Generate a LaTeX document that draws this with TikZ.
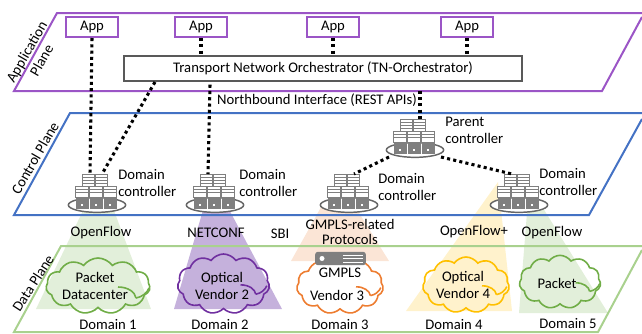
\documentclass[tikz,border=0pt]{standalone}
\usepackage{fontspec}
\setmainfont{Carlito}
\usetikzlibrary{positioning,shapes.geometric,shapes.symbols}
\definecolor{appline}{HTML}{9B55C6}
\definecolor{ctrlline}{HTML}{4472C4}
\definecolor{dataline}{HTML}{A9D18E}
\definecolor{srvgrey}{HTML}{7F7F7F}
\definecolor{fillgreen}{HTML}{E2EFDA}
\definecolor{fillpurple}{HTML}{C5B1DC}
\definecolor{fillpeach}{HTML}{FBE5D6}
\definecolor{fillyellow}{HTML}{FFF2CC}
\definecolor{cloudgreen}{HTML}{70AD47}
\definecolor{cloudpurple}{HTML}{7030A0}
\definecolor{cloudorange}{HTML}{ED7D31}
\definecolor{cloudyellow}{HTML}{FFC000}
\tikzset{
  every node/.style={font=\fontsize{11pt}{12.8pt}\selectfont, inner sep=0pt, align=center},
  appbox/.style={draw=appline, line width=1.5pt, minimum width=39pt, minimum height=15pt},
  orchbox/.style={draw=black!65, line width=1.3pt, fill=white, minimum width=298pt, minimum height=18.5pt},
  plane/.style={line width=1.5pt},
  dots/.style={line width=2.3pt, dash pattern=on 2.3pt off 2.4pt},
  ring/.style={ellipse, draw=black!60, line width=1.1pt, fill=white, minimum width=43pt, minimum height=11pt},
  domaincloud/.style={cloud, cloud puffs=11, cloud puff arc=110, cloud ignores aspect, line width=1.2pt},
  racktop/.style={draw=srvgrey, fill=white, line width=0.7pt},
  pics/servers/.style={code={
    \node [ring] (-ring) at (0,0) {};
    \foreach \xx in {-8.5,4.5} {
      \draw [racktop] (\xx-6,-31) rectangle (\xx+6,-19);
      \foreach \ll in {-28,-25,-22} \draw [srvgrey, line width=0.7pt] (\xx-6,\ll) -- (\xx+6,\ll);
    }
    \foreach \xx in {-15,-1,13} {
      \draw [racktop] (\xx-6.5,-19) rectangle (\xx+6.5,-8);
      \foreach \ll in {-16,-13} \draw [srvgrey, line width=0.7pt] (\xx-6.5,\ll) -- (\xx+6.5,\ll);
      \fill [srvgrey] (\xx-6.5,-8) rectangle (\xx+6.5,4);
      \fill [white] (\xx-1,-1) rectangle (\xx+1,1);
    }
    \coordinate (-topl) at (-7,-31);
    \coordinate (-topr) at (5,-31);
  }},
  pics/folds/.style={code={
    \draw [pic actions] (20,1) .. controls (30,1) and (37,6) .. (38,12);
    \draw [pic actions] (38,12) .. controls (44,11) and (49,7) .. (51,2);
  }}
}
\begin{document}
\begin{tikzpicture}[x=0.75pt, y=-0.75pt]
\useasboundingbox (0,0) rectangle (642,333);
% cones from the controllers down to the domains
\fill [fillgreen] (88,200) -- (110,200) -- (151,309) -- (36,309) -- cycle;
\fill [fillpurple] (206,200) -- (224,200) -- (282,309) -- (174,309) -- cycle;
\fill [fillpeach] (325,200) -- (351,200) -- (389,261) -- (291,261) -- cycle;
\fill [fillgreen] (528,200) -- (538,200) -- (608,313) -- (519,313) -- cycle;
\fill [fillyellow] (498,182) -- (512,311) -- (406,311) -- cycle;
% planes
\draw [plane, appline] (642,13) -- (57,13) -- (14,91) -- (602,91) -- (642,17);
\draw [plane, ctrlline] (642,113) -- (70,113) -- (14,215) -- (589,215) -- (642,119);
\draw [plane, dataline] (642,246) -- (61,246) -- (14,332) -- (598,332) -- (642,250);
\node [rotate=60] (appplane) at (34,56) {Application\\Plane};
\node [rotate=60] (ctrlplane) at (35,158) {Control Plane};
\node [rotate=57] (dataplane) at (33,283) {Data Plane};
% clouds
\node [domaincloud, draw=cloudgreen, minimum width=78pt, minimum height=42pt] (cloud1) at (98,286) {};
\node [domaincloud, draw=cloudpurple, minimum width=69pt, minimum height=45pt] (cloud2) at (223.5,284) {};
\node [domaincloud, draw=cloudorange, minimum width=65pt, minimum height=42pt] (cloud3) at (340,286) {};
\node [domaincloud, draw=cloudyellow, minimum width=65pt, minimum height=42pt] (cloud4) at (466,285) {};
\node [domaincloud, draw=cloudgreen, minimum width=61pt, minimum height=40pt] (cloud5) at (560,282) {};
\pic [draw=cloudgreen, line width=1.2pt] at (98,286) {folds};
\pic [draw=cloudpurple, line width=1.2pt, scale=0.85] at (223.5,284) {folds};
\pic [draw=cloudorange, line width=1.2pt, scale=0.8] at (340,286) {folds};
\pic [draw=cloudyellow, line width=1.2pt, scale=0.8] at (466,285) {folds};
\pic [draw=cloudgreen, line width=1.2pt, scale=0.78] at (560,282) {folds};
% GMPLS device on the third cloud
\node [fill=srvgrey, rounded corners=2pt, minimum width=38pt, minimum height=10pt] (gmplsbox) at (340.5,258.5) {};
\fill [white] (322,258.5) circle (2.5);
\foreach \yy in {255,258.5,262}
\draw [white, line width=0.6pt] (343,\yy) -- (363,\yy);
% controllers
\pic (dc1) at (97,205) {servers};
\pic (dc2) at (215,205) {servers};
\pic (dc3) at (349,205) {servers};
\pic (dc4) at (519,205) {servers};
\pic (parent) at (415,150) {servers};
% applications and orchestrator
\node [appbox] (app1) at (92,27) {App};
\node [appbox] (app2) [right = 41.25pt of app1] {App};
\node [appbox] (app3) [right = 58.5pt of app2] {App};
\node [appbox] (app4) [right = 60pt of app3] {App};
\node [orchbox] (orch) at (323,68.5) {Transport Network Orchestrator (TN-Orchestrator)};
% dotted links
\draw [dots] (app1.south) -- (dc1-topl);
\draw [dots] (app2.south) -- (app2.south |- orch.north);
\draw [dots] (app3.south) -- (app3.south |- orch.north);
\draw [dots] (app4.south) -- (app4.south |- orch.north);
\draw [dots] (155,82) -- (dc1-topr);
\draw [dots] (dc2-topl |- orch.south) ++(2,3) -- (dc2-topl);
\draw [dots] (parent-topr |- orch.south) ++(0,9) -- (parent-topr);
\draw [dots] (parent-ring) ++(-26,7) -- (dc3-topr);
\draw [dots] (parent-ring) ++(26,7) -- (dc4-topl);
% labels
\node (nbi) at (317,100) {Northbound Interface (REST APIs)};
\node (parenttext) [anchor=west] at (445,131.5) {\begin{tabular}{@{}l@{}}Parent\\controller\end{tabular}};
\node (dc1text) [anchor=west] at (118,184.5) {\begin{tabular}{@{}l@{}}Domain\\controller\end{tabular}};
\node (dc2text) [anchor=west] at (239,184.5) {\begin{tabular}{@{}l@{}}Domain\\controller\end{tabular}};
\node (dc3text) [anchor=west] at (378,188.5) {\begin{tabular}{@{}l@{}}Domain\\controller\end{tabular}};
\node (dc4text) [anchor=west] at (539,183.5) {\begin{tabular}{@{}l@{}}Domain\\controller\end{tabular}};
\node (sbi1) at (101,233) {OpenFlow};
\node (sbi2) at (216,233) {NETCONF};
\node (sbi) at (280,234) {SBI};
\node (sbi3) at (350,231.5) {GMPLS-related\\[-1.5pt]Protocols};
\node (sbi4) at (474,232) {OpenFlow+};
\node (sbi5) at (552,233) {OpenFlow};
\node (cloud1text) at (95,285.5) {Packet\\Datacenter};
\node (cloud2text) at (222,285.5) {Optical\\Vendor 2};
\node (gmplstext) at (340,273) {GMPLS};
\node (vendor3text) at (337,295) {Vendor 3};
\node (cloud4text) at (463,284.5) {Optical\\Vendor 4};
\node (cloud5text) at (557,283) {Packet};
\node (domain1) at (108,324) {Domain 1};
\node (domain2) at (220,324) {Domain 2};
\node (domain3) at (340,324) {Domain 3};
\node (domain4) at (454,324) {Domain 4};
\node (domain5) at (568,323) {Domain 5};
\end{tikzpicture}
\end{document}
